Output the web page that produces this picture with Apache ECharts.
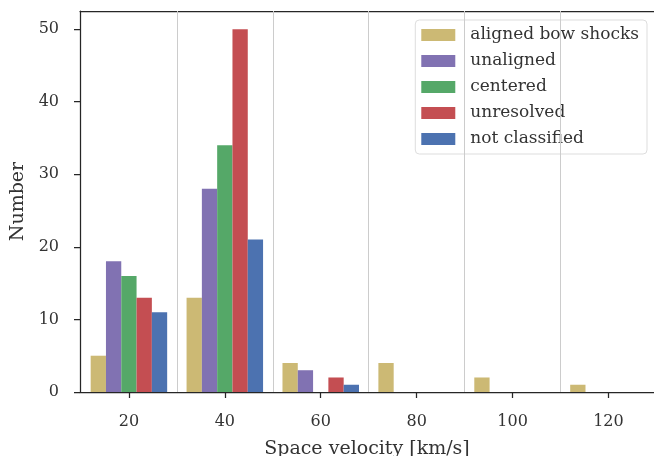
<!DOCTYPE html>
<html>
<head>
<meta charset="utf-8">
<script src="https://cdn.jsdelivr.net/npm/echarts@6/dist/echarts.min.js"></script>
<style>html,body{margin:0;padding:0;background:#fff}#c{width:654px;height:456px}</style>
</head>
<body>
<div id="c"></div>
<script>
var binCenters = [20, 40, 60, 80, 100, 120];
var binEdges = [30, 50, 70, 90, 110];
var seriesNames = ['aligned bow shocks', 'unaligned', 'centered', 'unresolved', 'not classified'];
var alignedBowShocks = [5, 13, 4, 4, 2, 1];
var unaligned = [18, 28, 3, 0, 0, 0];
var centered = [16, 34, 0, 0, 0, 0];
var unresolved = [13, 50, 2, 0, 0, 0];
var notClassified = [11, 21, 1, 0, 0, 0];
var xTicks = [20, 40, 60, 80, 100, 120];
var yTicks = [0, 10, 20, 30, 40, 50];
var colors = ['#CCB974', '#8172B2', '#55A868', '#C44E52', '#4C72B0'];

var allValues = [alignedBowShocks, unaligned, centered, unresolved, notClassified];
var font = 'DejaVu Serif';
var txt = '#333333';
var axisCol = '#262626';

var series = allValues.map(function (vals, i) {
  return {
    name: seriesNames[i],
    type: 'bar',
    barWidth: 15.3,
    barGap: '0%',
    itemStyle: { color: colors[i] },
    data: vals.map(function (v, j) { return [binCenters[j], v === 0 ? '-' : v]; }),
    z: 3
  };
});
series.push({
  name: 'edges',
  type: 'line',
  data: [],
  silent: true,
  markLine: {
    silent: true,
    symbol: 'none',
    label: { show: false },
    lineStyle: { color: '#cccccc', type: 'solid', width: 1 },
    data: binEdges.map(function (e) { return { xAxis: e }; })
  },
  z: 1
});

var chart = echarts.init(document.getElementById('c'), null, { renderer: 'canvas' });
chart.setOption({
  animation: false,
  color: colors,
  textStyle: { fontFamily: font },
  grid: { left: 80, right: 0, top: 11, bottom: 64, containLabel: false, outerBoundsMode: 'none' },
  legend: {
    orient: 'vertical',
    right: 7,
    top: 20,
    padding: [6, 8, 6, 6],
    itemWidth: 34,
    itemHeight: 12,
    itemGap: 8,
    backgroundColor: 'rgba(255,255,255,0.8)',
    borderColor: '#dddddd',
    borderWidth: 1,
    borderRadius: 4,
    icon: 'rect',
    textStyle: { fontFamily: font, fontSize: 17, color: txt, padding: [0, 0, 0, 10], lineHeight: 18 },
    data: seriesNames
  },
  xAxis: [{
    type: 'value',
    min: 9.8,
    max: 129.5,
    name: 'Space velocity [km/s]',
    nameLocation: 'middle',
    nameGap: 48,
    nameTextStyle: { fontFamily: font, fontSize: 19, color: txt },
    axisLine: { show: true, onZero: false, lineStyle: { color: axisCol, width: 1.25 } },
    axisTick: { show: true, length: 6, lineStyle: { color: axisCol, width: 1.25 }, customValues: xTicks },
    axisLabel: { fontFamily: font, fontSize: 16, color: txt, margin: 22, customValues: xTicks },
    splitLine: { show: false }
  }, {
    type: 'value',
    position: 'top',
    min: 9.8,
    max: 129.5,
    axisLine: { show: true, onZero: false, lineStyle: { color: axisCol, width: 1.25 } },
    axisTick: { show: false },
    axisLabel: { show: false },
    splitLine: { show: false }
  }],
  yAxis: {
    type: 'value',
    min: 0,
    max: 52.5,
    name: 'Number',
    nameLocation: 'middle',
    nameGap: 50,
    nameTextStyle: { fontFamily: font, fontSize: 19, color: txt },
    axisLine: { show: true, lineStyle: { color: axisCol, width: 1.25 } },
    axisTick: { show: true, length: 6, lineStyle: { color: axisCol, width: 1.25 }, customValues: yTicks },
    axisLabel: { fontFamily: font, fontSize: 16, color: txt, margin: 21, customValues: yTicks },
    splitLine: { show: false }
  },
  series: series
});
</script>
</body>
</html>
